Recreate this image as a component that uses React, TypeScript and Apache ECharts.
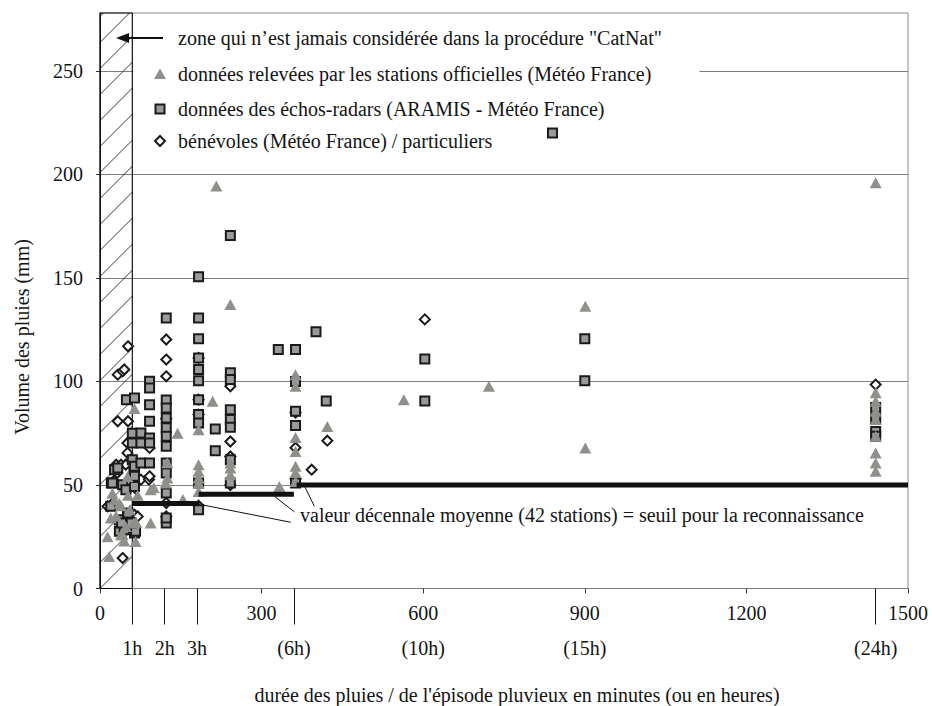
import React, { useEffect, useRef } from "react";
import * as echarts from "echarts";

// ---- data (durée en minutes, volume en mm) ----
const stationsOfficielles: number[][] = [
  [14, 25], [17, 15.5], [20, 34], [23, 46], [27, 43], [30, 35], [36, 41], [39, 40], [39, 26], [42, 26],
  [45, 23], [48, 30], [51, 54], [52, 45], [55, 38], [63, 31.6], [64, 87], [66, 22.7], [70, 45], [67, 32],
  [94, 47.7], [100, 48.7], [94, 31.6],
  [125, 60.8], [125, 53.4], [122, 51],
  [144, 75], [154, 43],
  [183, 76.7], [183, 59.8], [183, 56.6], [183, 53.4], [183, 51], [183, 46.9],
  [209, 90.4], [216, 194.4],
  [242, 137.2], [242, 60.6], [242, 58.2], [242, 55],
  [333, 49.3],
  [363, 103.3], [363, 97.7], [363, 72.9], [363, 66.2], [363, 59], [363, 56], [363, 51.7],
  [422, 78.2], [564, 91.2], [722, 97.7], [901, 136.4], [901, 67.9],
  [1440, 196], [1440, 94.5], [1440, 90.4], [1440, 85.6], [1440, 81.6], [1440, 73.5], [1440, 65.5],
  [1440, 60.6], [1440, 56.6],
];

const echosRadars: number[][] = [
  [20, 39.7], [21, 51], [23, 51], [27, 57.4], [33, 58.2], [36, 33.2], [36, 27.6], [42, 50.1], [45, 28.4],
  [48, 47.7], [49, 91.2], [51, 35.6], [52, 36.5], [60, 70.3], [60, 75], [60, 62.2], [63, 56.6], [64, 92],
  [64, 59], [64, 54.2], [64, 49.3], [64, 26.8], [66, 27.6], [58, 31.6], [40, 31.6],
  [76, 75.1], [76, 70.3], [76, 60.6],
  [92, 100.1], [92, 96.9], [92, 88.8], [92, 80.8], [92, 72.7], [92, 70.3], [92, 60.6],
  [123, 130.7], [123, 91], [123, 87.2], [123, 82.4], [123, 77.6], [123, 73.5], [123, 68.7], [123, 60.6],
  [123, 55.8], [123, 46.1], [123, 31.6], [123, 34],
  [183, 150.6], [183, 130.7], [183, 120.7], [183, 111.4], [183, 105.8], [183, 100.4], [183, 91.2],
  [183, 84], [183, 80], [183, 51], [183, 38],
  [214, 77.1], [214, 66.6],
  [242, 170.5], [242, 104.2], [242, 100.9], [242, 86.4], [242, 81.6], [242, 77.9], [242, 62.2], [242, 51],
  [331, 115.4],
  [363, 115.4], [363, 100], [363, 85.6], [363, 78.7], [363, 51],
  [401, 124], [420, 90.6],
  [603, 110.9], [603, 90.6],
  [840, 220],
  [900, 120.7], [900, 100.4],
  [1440, 87.4], [1440, 82], [1440, 75.9], [1440, 73.5],
];

const benevoles: number[][] = [
  [14, 39.7], [21, 40.5], [30, 59.8], [32, 55.8], [33, 80.8], [33, 103.3], [39, 59.8], [42, 104.9],
  [42, 14.7], [45, 105.8], [48, 59.8], [51, 70.3], [51, 65.5], [52, 117], [52, 80.8], [55, 52],
  [64, 35.6], [70, 34.8], [60, 45], [26, 52],
  [76, 52.6], [91, 52.6], [92, 67.9], [92, 54.2],
  [123, 120.3], [123, 110.6], [123, 102.5], [123, 41.3], [123, 34.8], [123, 82],
  [183, 111.4], [183, 91.2], [183, 84], [183, 40],
  [242, 97.7], [242, 71], [242, 63.8], [242, 50],
  [363, 85], [363, 68], [363, 53],
  [393, 57.4], [422, 71.4], [603, 130], [1440, 98.5],
];

// valeur décennale moyenne (42 stations) par durée
const seuil1h3h: number[][] = [[60, 41], [185, 41]];
const seuil3h6h: number[][] = [[183, 45.5], [360, 45.5]];
const seuil6h: number[][] = [[365, 50], [1500, 50]];

// traits de rappel vers l'annotation
const rappel1: number[][] = [[188, 40.5], [354, 32]];
const rappel2: number[][] = [[324, 44.5], [361, 37]];
const rappel3: number[][] = [[380, 49.3], [398, 39.7]];

// zone jamais considérée (minutes)
const zoneCatNat: number[] = [0, 60];

const xTicks = [0, 300, 600, 900, 1200, 1500];
const yTicks = [0, 50, 100, 150, 200, 250];
const hourTickValues = [60, 120, 180, 360, 1440];
const hourLabelValues = [60, 120, 180, 360, 600, 900, 1440];
const hourLabels = ["1h", "2h", "3h", "(6h)", "(10h)", "(15h)", "(24h)"];

const Y_MAX = 278;
const FONT = "Liberation Serif";
const GFONT = "serif";
const FS = 20;
const TXT = "#141414";
const TRI = "#8f8f8b";
const SQ = "#9a9a9a";

export default function App() {
  const ref = useRef<HTMLDivElement>(null);

  useEffect(() => {
    if (!ref.current) return;
    const chart = echarts.init(ref.current, undefined, { renderer: "svg" });

    const canvas = document.createElement("canvas");
    const ctx = canvas.getContext("2d") as CanvasRenderingContext2D;
    ctx.font = `${FS}px "${FONT}"`;
    const mw = (s: string) => ctx.measureText(s).width;

    const lineSeries = (data: number[][], width: number) => ({
      type: "line",
      data,
      symbol: "none",
      lineStyle: { color: "#111", width },
      silent: true,
      z: 6,
    });

    // plain graphic text: box top-left at (x, y)
    const txt = (text: string, x: number, y: number) => ({
      type: "text",
      z: 10,
      x,
      y,
      style: { text, fontSize: FS, fill: TXT, fontFamily: GFONT },
    });

    const option: any = {
      animation: false,
      grid: {
        left: 100,
        top: 13,
        width: 808,
        height: 575.5,
        show: true,
        borderColor: "#8a8a8a",
        borderWidth: 1,
      },
      xAxis: [
        {
          type: "value",
          min: 0,
          max: 1500,
          interval: 300,
          axisLine: { show: true, lineStyle: { color: "#7a7a7a", width: 1 } },
          axisTick: { show: true, length: 5, lineStyle: { color: "#333" }, customValues: xTicks },
          axisLabel: {
            customValues: xTicks,
            fontSize: FS,
            color: TXT,
            fontFamily: FONT,
            margin: 14,
            formatter: (v: number) => String(v),
          },
          splitLine: { show: false },
        },
        {
          type: "value",
          min: 0,
          max: 1500,
          position: "bottom",
          axisLine: { show: false },
          axisTick: { show: true, length: 36, customValues: hourTickValues, lineStyle: { color: "#111", width: 1 } },
          axisLabel: {
            customValues: hourLabelValues,
            fontSize: FS,
            color: TXT,
            fontFamily: FONT,
            margin: 49,
            formatter: (v: number) => {
              const i = hourLabelValues.indexOf(v);
              return i >= 0 ? hourLabels[i] : "";
            },
          },
          splitLine: { show: false },
        },
      ],
      yAxis: {
        type: "value",
        min: 0,
        max: Y_MAX,
        interval: 50,
        axisLine: { show: true, lineStyle: { color: "#111" } },
        axisTick: { show: true, length: 4, customValues: yTicks, lineStyle: { color: "#333" } },
        axisLabel: { show: false },
        splitLine: { show: true, lineStyle: { color: "#7f7f7f", width: 1 } },
      },
      series: [
        {
          type: "scatter",
          name: "données relevées par les stations officielles (Météo France)",
          data: stationsOfficielles,
          symbol: "triangle",
          symbolSize: [12, 11],
          itemStyle: { color: TRI, opacity: 1 },
          z: 5,
        },
        {
          type: "scatter",
          name: "données des échos-radars (ARAMIS - Météo France)",
          data: echosRadars,
          symbol: "rect",
          symbolSize: 9,
          itemStyle: { color: SQ, borderColor: "#1a1a1a", borderWidth: 2, opacity: 1 },
          z: 4,
        },
        {
          type: "scatter",
          name: "bénévoles (Météo France) / particuliers",
          data: benevoles,
          symbol: "diamond",
          symbolSize: [10, 10],
          itemStyle: { color: "#fff", borderColor: "#1a1a1a", borderWidth: 2, opacity: 1 },
          z: 3,
        },
        lineSeries(seuil1h3h, 5),
        lineSeries(seuil3h6h, 5),
        lineSeries(seuil6h, 5),
        lineSeries(rappel1, 1),
        lineSeries(rappel2, 1),
        lineSeries(rappel3, 1),
      ],
    };

    chart.setOption(option);

    // hatched zone computed through the axes' scales
    const p0 = chart.convertToPixel({ gridIndex: 0 }, [zoneCatNat[0], Y_MAX]) as number[];
    const p1 = chart.convertToPixel({ gridIndex: 0 }, [zoneCatNat[1], 0]) as number[];
    const x0 = p0[0], y0 = p0[1], y1 = p1[1];
    const w = p1[0] - x0;
    const hatch: any[] = [];
    for (let c = y1; c > y0 - w; c -= 26) {
      const sx = Math.max(0, c - y1);
      const ex = Math.min(w, c - y0);
      if (ex > sx) {
        hatch.push({
          type: "line",
          z: 1,
          silent: true,
          shape: { x1: x0 + sx, y1: c - sx, x2: x0 + ex, y2: c - ex },
          style: { stroke: "#222", lineWidth: 0.9 },
        });
      }
    }
    hatch.push({
      type: "rect",
      z: 1,
      silent: true,
      shape: { x: x0, y: y0, width: w, height: y1 - y0 },
      style: { fill: "none", stroke: "#111", lineWidth: 1.2 },
    });

    // y tick labels, right-aligned at x = 83, centred on their tick
    const yLabels = yTicks.map((v) => {
      const py = (chart.convertToPixel({ gridIndex: 0 }, [0, v]) as number[])[1];
      const s = String(v);
      return txt(s, 83 - mw(s), py - FS / 2);
    });

    const yTitle = "Volume des pluies (mm)";
    const xTitle = "durée des pluies / de l'épisode pluvieux en minutes (ou en heures)";

    chart.setOption({
      graphic: [
        // white box behind the legend texts
        { type: "rect", z: 1, shape: { x: x0 + w + 1, y: 20, width: 566, height: 140 }, style: { fill: "#fff" }, silent: true },
        ...hatch,
        // arrow to the hatched zone
        { type: "line", z: 10, shape: { x1: 163, y1: 38, x2: 126, y2: 38 }, style: { stroke: "#111", lineWidth: 2 } },
        { type: "polygon", z: 10, shape: { points: [[116, 38], [129, 33], [129, 43]] }, style: { fill: "#111" } },
        txt("zone qui n’est jamais considérée dans la procédure \"CatNat\"", 178, 38 - FS / 2),
        // legend items
        { type: "polygon", z: 10, shape: { points: [[160, 68.5], [166, 79], [154, 79]] }, style: { fill: TRI } },
        txt("données relevées par les stations officielles (Météo France)", 178, 74 - FS / 2),
        { type: "rect", z: 10, shape: { x: 155.5, y: 104.5, width: 9, height: 9 }, style: { fill: SQ, stroke: "#1a1a1a", lineWidth: 2 } },
        txt("données des échos-radars (ARAMIS - Météo France)", 178, 109 - FS / 2),
        { type: "polygon", z: 10, shape: { points: [[160, 136], [165, 141], [160, 146], [155, 141]] }, style: { fill: "#fff", stroke: "#1a1a1a", lineWidth: 2 } },
        txt("bénévoles (Météo France) / particuliers", 178, 141 - FS / 2),
        // annotation for thresholds
        txt("valeur décennale moyenne (42 stations) = seuil pour la reconnaissance", 300, 515 - FS / 2),
        // tick labels of the y axis
        ...yLabels,
        // axis titles
        { ...txt(yTitle, 12, 337 + mw(yTitle) / 2), rotation: Math.PI / 2 },
        txt(xTitle, 517 - mw(xTitle) / 2, 695 - FS / 2),
      ],
    });

    return () => chart.dispose();
  }, []);

  return (
    <div
      ref={ref}
      style={{ position: "absolute", left: 0, top: 0, width: 932, height: 706, background: "#fff" }}
    />
  );
}
